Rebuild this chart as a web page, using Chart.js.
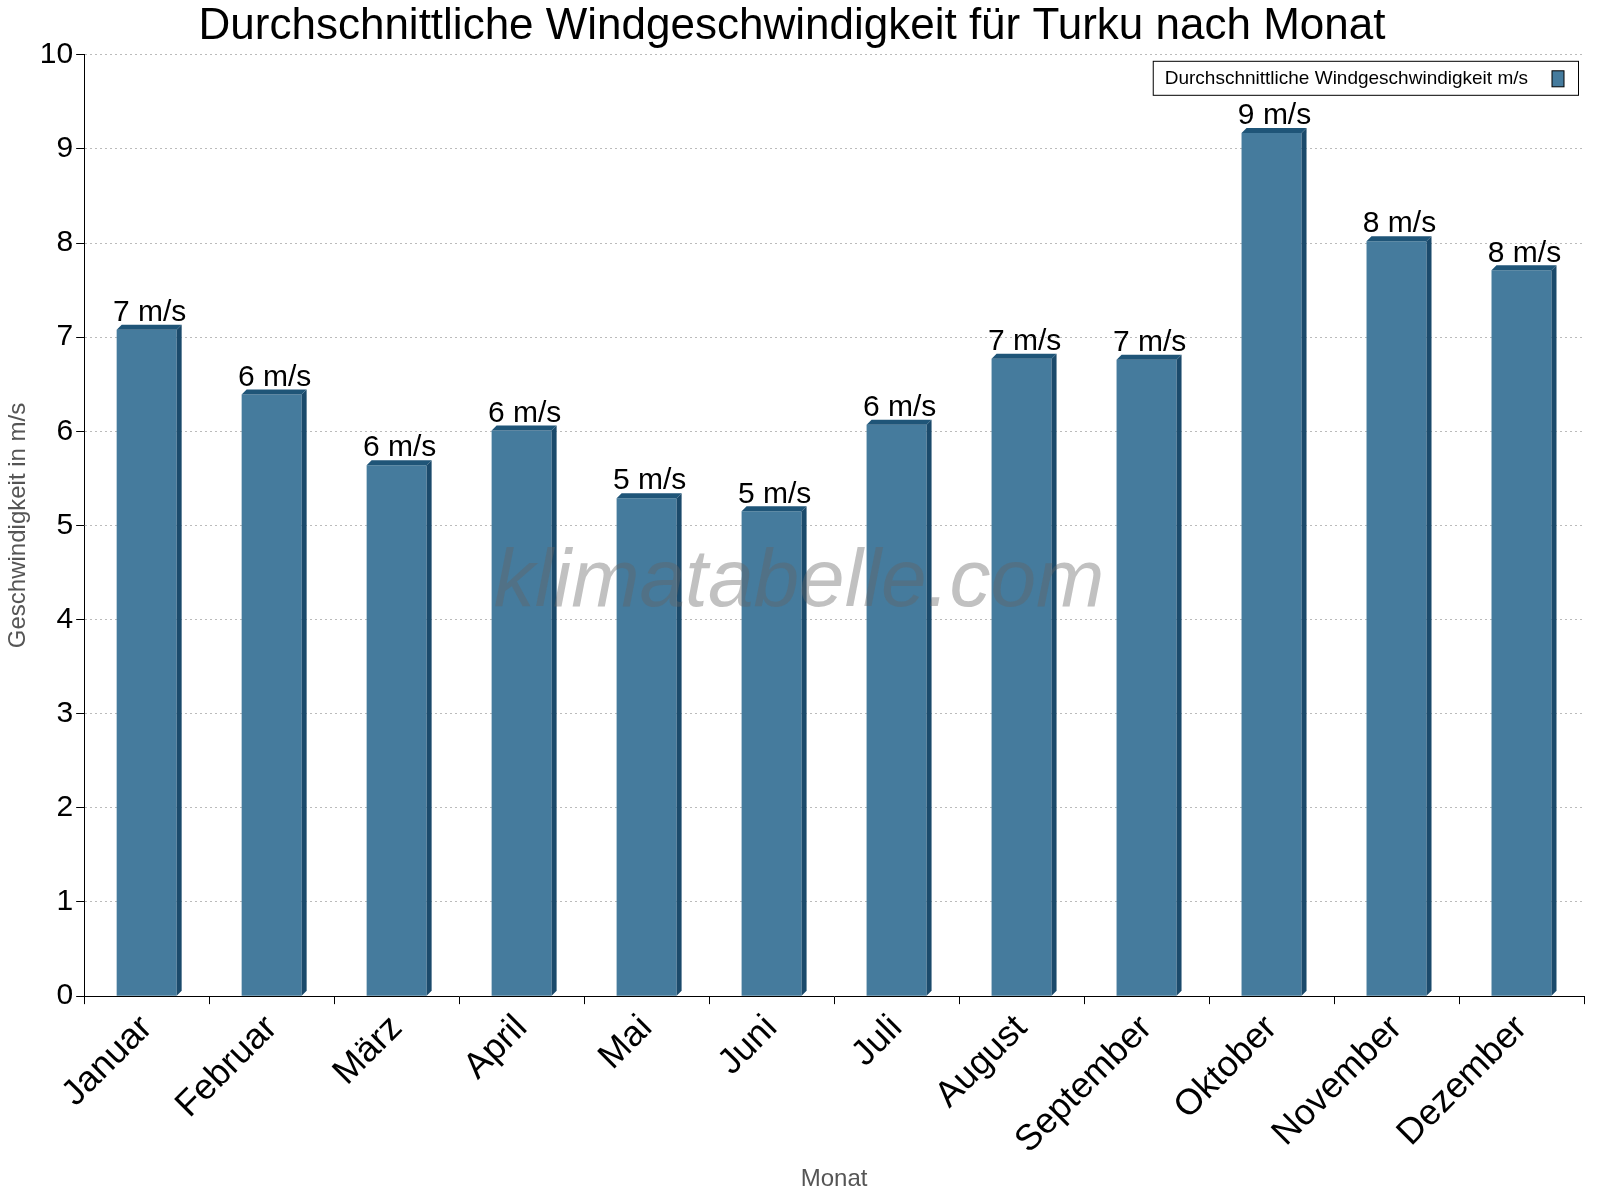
<!DOCTYPE html>
<html>
<head>
<meta charset="utf-8">
<script src="https://cdn.jsdelivr.net/npm/chart.js@4/dist/chart.umd.min.js"></script>
<style>
  html, body { margin: 0; padding: 0; background: #fff; }
  #wrap { width: 1600px; height: 1200px; }
</style>
</head>
<body>
<div id="wrap"><canvas id="grafico"></canvas></div>
<script>
const monate = ['Januar', 'Februar', 'März', 'April', 'Mai', 'Juni', 'Juli', 'August', 'September', 'Oktober', 'November', 'Dezember'];
const wind = [7.08, 6.39, 5.64, 6.01, 5.29, 5.15, 6.07, 6.77, 6.76, 9.17, 8.02, 7.71];
const windLabels = ['7 m/s', '6 m/s', '6 m/s', '6 m/s', '5 m/s', '5 m/s', '6 m/s', '7 m/s', '7 m/s', '9 m/s', '8 m/s', '8 m/s'];

const FONT = 'Arial, "Liberation Sans", sans-serif';

// 3D-Kanten, Werte, Wasserzeichen
const extras = {
    id: 'extras',
    afterDatasetsDraw(chart) {
        const { ctx, chartArea: a } = chart;
        const meta = chart.getDatasetMeta(0);
        const d = 5;
        ctx.save();
        meta.data.forEach((bar, i) => {
            const left = bar.x - bar.width / 2, right = bar.x + bar.width / 2;
            const base = bar.base, top = bar.y;
            ctx.fillStyle = '#1b4a6b';
            ctx.beginPath();
            ctx.moveTo(right, top);
            ctx.lineTo(right + d, top - d);
            ctx.lineTo(right + d, base - d);
            ctx.lineTo(right, base);
            ctx.closePath();
            ctx.fill();
            ctx.fillStyle = '#1f5578';
            ctx.beginPath();
            ctx.moveTo(left, top);
            ctx.lineTo(left + d, top - d);
            ctx.lineTo(right + d, top - d);
            ctx.lineTo(right, top);
            ctx.closePath();
            ctx.fill();
            ctx.font = '30px ' + FONT;
            ctx.fillStyle = '#000';
            ctx.textAlign = 'center';
            ctx.textBaseline = 'bottom';
            ctx.fillText(windLabels[i], bar.x + 3, top - 2);
        });
        ctx.font = 'italic 82px ' + FONT;
        ctx.fillStyle = 'rgba(100,100,100,0.4)';
        ctx.textAlign = 'center';
        ctx.textBaseline = 'middle';
        ctx.fillText('klimatabelle.com', (a.left + a.right) / 2 - 35, 583);
        ctx.restore();
    }
};

new Chart(document.getElementById('grafico').getContext('2d'), {
    type: 'bar',
    data: {
        labels: monate,
        datasets: [{
            label: 'Durchschnittliche Windgeschwindigkeit m/s',
            data: wind,
            backgroundColor: '#457b9d',
            borderWidth: 0,
            barPercentage: 0.48,
            categoryPercentage: 1
        }]
    },
    options: {
        responsive: true,
        maintainAspectRatio: false,
        animation: false,
        layout: { padding: { left: 0, right: 16, top: 0, bottom: 6 } },
        plugins: {
            title: {
                display: true,
                text: 'Durchschnittliche Windgeschwindigkeit für Turku nach Monat',
                font: { family: FONT, size: 44, weight: 'normal' },
                color: '#000',
                padding: { top: 0, bottom: 2 }
            },
            legend: { display: false },
            tooltip: { enabled: false }
        },
        scales: {
            x: {
                grid: { display: true, drawOnChartArea: false, offset: true, tickColor: '#000', tickLength: 8 },
                border: { color: '#000' },
                ticks: {
                    color: '#000',
                    font: { family: FONT, size: 36 },
                    maxRotation: 45, minRotation: 45
                },
                title: { display: true, text: 'Monat', color: '#555', font: { family: FONT, size: 24 }, padding: 0 }
            },
            y: {
                min: 0, max: 10,
                ticks: { stepSize: 1, color: '#000', font: { family: FONT, size: 30 } },
                grid: { color: '#bbb', tickColor: '#000', tickLength: 8 },
                border: { color: '#000', dash: [2, 3] },
                title: { display: true, text: 'Geschwindigkeit in m/s', color: '#555', font: { family: FONT, size: 24 } }
            }
        }
    },
    plugins: [extras, {
        id: 'legendBox',
        afterDraw(chart) {
            const { ctx, chartArea: a } = chart;
            const txt = 'Durchschnittliche Windgeschwindigkeit m/s';
            ctx.save();
            ctx.font = '19px ' + FONT;
            const w = ctx.measureText(txt).width + 62;
            const x = a.right - 6 - w, y = a.top + 6;
            ctx.fillStyle = '#fff';
            ctx.fillRect(x, y, w, 34);
            ctx.strokeStyle = '#000';
            ctx.lineWidth = 1;
            ctx.strokeRect(x + 0.5, y + 0.5, w, 34);
            ctx.fillStyle = '#000';
            ctx.textBaseline = 'middle';
            ctx.fillText(txt, x + 12, y + 18);
            ctx.fillStyle = '#457b9d';
            ctx.fillRect(x + w - 26, y + 10, 12, 16);
            ctx.strokeRect(x + w - 26, y + 10, 12, 16);
            ctx.restore();
        }
    }]
});
</script>
</body>
</html>
